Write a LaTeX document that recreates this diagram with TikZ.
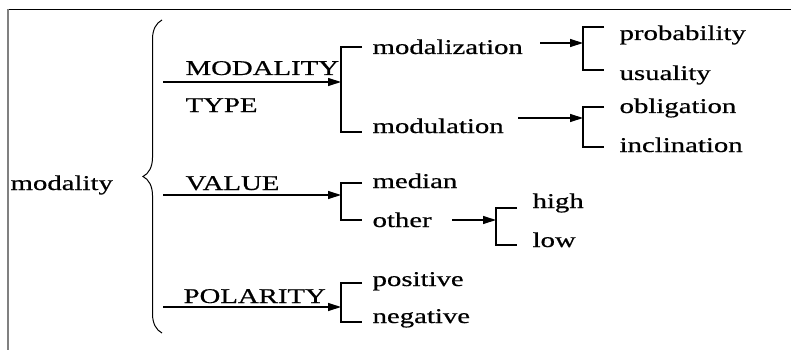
\documentclass[tikz,border=0pt]{standalone}
\usepackage{fontspec}
\setmainfont[FakeStretch=1.37,FakeBold=0.6]{Liberation Serif}
\usetikzlibrary{arrows.meta,decorations.pathreplacing}

\begin{document}
\begin{tikzpicture}[x=1pt,y=-1pt,line width=1.2pt,
  lbl/.style={anchor=base west,inner sep=0pt,font=\fontsize{21}{24}\selectfont},
  arr/.style={-{Triangle[length=13pt,width=8pt]}}]
\useasboundingbox (0,0) rectangle (791,350);
% frame
\draw[line width=0.9pt] (7,9) -- (791,9);
\draw[line width=1.5pt,gray] (8,9) -- (8,350);

% texts
\node[lbl] (root) at (10,190) {modality};
\node[lbl] (mtype) at (185,75) {MODALITY};
\node[lbl] (typ) at (185,112) {TYPE};
\node[lbl] (value) at (185,190) {VALUE};
\node[lbl] (polar) at (183,303) {POLARITY};
\node[lbl] (mdz) at (372,54) {modalization};
\node[lbl] (mdl) at (372,133) {modulation};
\node[lbl] (prob) at (619,40) {probability};
\node[lbl] (usu) at (619,80) {usuality};
\node[lbl] (obl) at (619,113) {obligation};
\node[lbl] (inc) at (619,152) {inclination};
\node[lbl] (med) at (372,188) {median};
\node[lbl] (oth) at (372,227) {other};
\node[lbl] (hi) at (532,208) {high};
\node[lbl] (lo) at (532,247) {low};
\node[lbl] (pos) at (372,286) {positive};
\node[lbl] (neg) at (372,323) {negative};

% brace
\draw[decorate,decoration={brace,amplitude=19pt},line width=1pt] (162,333) -- (162,20);

% brackets
\foreach \n/\x/\t/\b in {1/341/47/132, 2/583/27/70, 3/583/107/147,
                        4/341/183/220, 5/341/283/322, 6/496/208/245}
  \draw (\x+21,\t) -- (\x,\t) coordinate (br\n) -- (\x,\b) -- (\x+21,\b);

% arrows
\coordinate (s1) at (163,82);
\coordinate (s2) at (540,43);
\coordinate (s3) at (518,118);
\coordinate (s4) at (163,195);
\coordinate (s5) at (163,307);
\coordinate (s6) at (452,220);
\path[arr]
(s1) edge (s1 -| br1)
(s2) edge (s2 -| br2)
(s3) edge (s3 -| br3)
(s4) edge (s4 -| br4)
(s5) edge (s5 -| br5)
(s6) edge (s6 -| br6);
\end{tikzpicture}
\end{document}
